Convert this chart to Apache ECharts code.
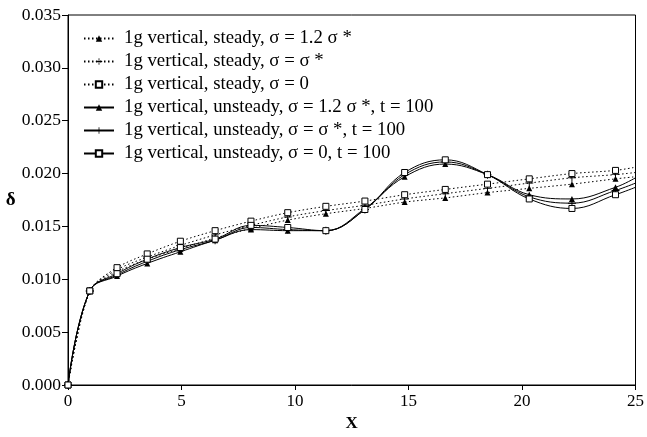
<!DOCTYPE html>
<html>
<head>
<meta charset="utf-8">
<script src="https://cdn.jsdelivr.net/npm/echarts@6/dist/echarts.min.js"></script>
<style>
html,body{margin:0;padding:0;background:#fff;}
#chart{width:647px;height:437px;}
</style>
</head>
<body>
<div id="chart"></div>
<script>
// X positions of the grid points (last one is the line end at the right border, no marker)
const xValues = [0, 0.96, 2.16, 3.49, 4.95, 6.48, 8.06, 9.68, 11.36, 13.08, 14.83, 16.62, 18.48, 20.32, 22.2, 24.12, 25];

const steady12 = [0, 0.0089, 0.0107, 0.0119, 0.0129, 0.0139, 0.0148, 0.0156, 0.0162, 0.0167, 0.0173, 0.0177, 0.0182, 0.0186, 0.0190, 0.0195, 0.0197];
const steadyS  = [0, 0.0089, 0.0109, 0.0121, 0.0132, 0.0142, 0.0151, 0.0159, 0.0165, 0.0170, 0.0176, 0.0181, 0.0186, 0.0191, 0.0196, 0.0199, 0.0201];
const steady0  = [0, 0.0089, 0.0111, 0.0124, 0.0136, 0.0146, 0.0155, 0.0163, 0.0169, 0.0174, 0.0180, 0.0185, 0.0190, 0.0195, 0.0200, 0.0203, 0.0206];
const unsteady12 = [0, 0.0089, 0.0103, 0.0115, 0.0126, 0.0137, 0.0147, 0.0146, 0.0146, 0.0167, 0.0197, 0.0209, 0.0199, 0.0180, 0.0176, 0.0187, 0.0196];
const unsteadyS  = [0, 0.0089, 0.0104, 0.0117, 0.0128, 0.0137, 0.0149, 0.0147, 0.0146, 0.0166, 0.0199, 0.0211, 0.0199, 0.0178, 0.0172, 0.0184, 0.0191];
const unsteady0  = [0, 0.0089, 0.01053, 0.0119, 0.0130, 0.0138, 0.0151, 0.0149, 0.0146, 0.0166, 0.0201, 0.0213, 0.0199, 0.0176, 0.0167, 0.0180, 0.0187];

const seriesNames = [
  '1g vertical, steady, \u03c3 = 1.2 \u03c3 *',
  '1g vertical, steady, \u03c3 = \u03c3 *',
  '1g vertical, steady, \u03c3 = 0',
  '1g vertical, unsteady, \u03c3 = 1.2 \u03c3 *, t = 100',
  '1g vertical, unsteady, \u03c3 = \u03c3 *, t = 100',
  '1g vertical, unsteady, \u03c3 = 0, t = 100'
];

const yTickLabels = ['0.000','0.005','0.010','0.015','0.020','0.025','0.030','0.035'];

const FONT = 'Liberation Serif';
const plusPath = 'path://M4.4,0h1.2v4.4h4.4v1.2h-4.4v4.4h-1.2v-4.4h-4.4v-1.2h4.4z';

function toData(vals) {
  return vals.map((v, i) => i === vals.length - 1
    ? { value: [xValues[i], v], symbol: 'none' }
    : [xValues[i], v]);
}

function mk(name, vals, dotted, symbol, size, fill, z, smooth) {
  return {
    name: name,
    type: 'line',
    data: toData(vals),
    smooth: smooth,
    symbol: symbol,
    symbolSize: size,
    showAllSymbol: true,
    z: z,
    lineStyle: { color: '#000', width: 1, type: dotted ? [1.5, 2.5] : 'solid' },
    itemStyle: { color: fill, borderColor: '#000', borderWidth: fill === '#fff' ? 1 : 0 },
    emphasis: { disabled: true },
    animation: false
  };
}

const chart = echarts.init(document.getElementById('chart'), null, { renderer: 'canvas' });
chart.setOption({
  animation: false,
  backgroundColor: '#fff',
  textStyle: { fontFamily: FONT, color: '#000' },
  grid: { left: 68, right: 8, top: 15, bottom: 49, show: true, borderColor: '#000', borderWidth: 1, backgroundColor: 'transparent' },
  legend: {
    orient: 'vertical',
    left: 83,
    top: 29,
    padding: 0,
    itemWidth: 30,
    itemHeight: 8,
    itemGap: 4,
    data: seriesNames,
    textStyle: { fontFamily: FONT, fontSize: 18.8, color: '#000', lineHeight: 18, padding: [0, 0, 0, 5] }
  },
  xAxis: {
    type: 'value',
    min: 0, max: 25, interval: 5,
    name: 'X',
    nameLocation: 'middle',
    nameGap: 30,
    nameTextStyle: { fontFamily: FONT, fontSize: 17, fontWeight: 'bold', color: '#000' },
    axisLine: { show: true, onZero: false, lineStyle: { color: '#000', width: 1 } },
    axisTick: { show: true, inside: false, length: 5, lineStyle: { color: '#000' } },
    axisLabel: { fontFamily: FONT, fontSize: 17, color: '#000', margin: 8 },
    splitLine: { show: false }
  },
  yAxis: {
    type: 'value',
    min: 0, max: 0.035, interval: 0.005,
    name: '\u03b4',
    nameLocation: 'middle',
    nameGap: 51,
    nameRotate: 0,
    nameTextStyle: { fontFamily: FONT, fontSize: 19, fontWeight: 'bold', color: '#000' },
    axisLine: { show: true, lineStyle: { color: '#000', width: 1 } },
    axisTick: { show: true, inside: false, length: 6, lineStyle: { color: '#000' } },
    axisLabel: {
      fontFamily: FONT, fontSize: 17.5, color: '#000', margin: 7,
      formatter: function (v) { return yTickLabels[Math.round(v / 0.005)]; }
    },
    splitLine: { show: false }
  },
  series: [
    mk(seriesNames[0], steady12, true, 'triangle', 6, '#000', 3, 0.3),
    mk(seriesNames[1], steadyS, true, plusPath, 8, '#000', 3, 0.3),
    mk(seriesNames[2], steady0, true, 'rect', 6, '#fff', 4, 0.3),
    mk(seriesNames[3], unsteady12, false, 'triangle', 6, '#000', 5, 0.4),
    mk(seriesNames[4], unsteadyS, false, plusPath, 8, '#000', 5, 0.4),
    mk(seriesNames[5], unsteady0, false, 'rect', 6, '#fff', 6, 0.4)
  ]
});
</script>
</body>
</html>
